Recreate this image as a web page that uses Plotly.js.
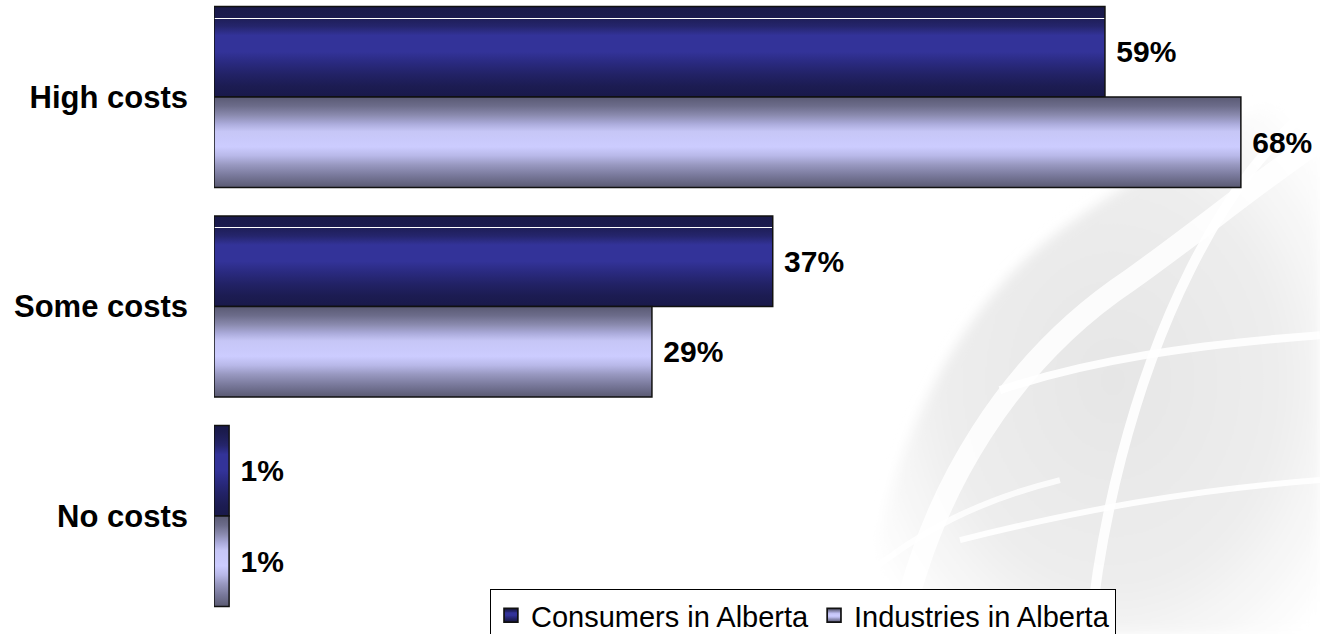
<!DOCTYPE html>
<html>
<head>
<meta charset="utf-8">
<script src="https://cdn.plot.ly/plotly-3.0.1.min.js"></script>
<style>
  html, body { margin: 0; padding: 0; background: #ffffff; }
  #chart { width: 1320px; height: 634px; }
</style>
</head>
<body>
<div id="chart"></div>
<script>
// ---- data ----
const categories = ["High costs", "Some costs", "No costs"];
const consumers = [59, 37, 1];
const industries = [68, 29, 1];
const seriesNames = ["Consumers in Alberta", "Industries in Alberta"];

const FONT = '"Liberation Sans", Arial, sans-serif';

// faint decorative background swoosh (watermark)
const wmSvg =
  '<svg xmlns="http://www.w3.org/2000/svg" viewBox="0 0 460 574" width="460" height="574">' +
  '<defs>' +
  '<radialGradient id="g1" cx="0.55" cy="0.55" r="0.6">' +
  '<stop offset="0" stop-color="#e4e4e4"/><stop offset="0.6" stop-color="#ececec"/><stop offset="1" stop-color="#ffffff"/></radialGradient>' +
  '<filter id="b"><feGaussianBlur stdDeviation="6"/></filter>' +
  '</defs>' +
  '<g filter="url(#b)">' +
  '<path d="M0,574 C20,420 80,260 200,170 C290,105 380,60 460,10 L460,574 Z" fill="url(#g1)" opacity="0.9"/>' +
  '</g>' +
  '<path d="M40,574 C70,430 150,300 270,220 C340,170 400,120 460,80" fill="none" stroke="#ffffff" stroke-width="22" opacity="0.85"/>' +
  '<path d="M230,574 C240,470 270,330 330,210 C370,130 410,80 460,40" fill="none" stroke="#ffffff" stroke-width="10" opacity="0.9"/>' +
  '<path d="M140,330 C230,300 330,285 460,275" fill="none" stroke="#ffffff" stroke-width="8" opacity="0.9"/>' +
  '<path d="M100,480 C220,450 330,430 460,420" fill="none" stroke="#ffffff" stroke-width="6" opacity="0.9"/>' +
  '<path d="M0,520 C60,470 120,440 200,420" fill="none" stroke="#ffffff" stroke-width="6" opacity="0.8"/>' +
  '</svg>';
const wmUri = 'data:image/svg+xml;charset=utf-8,' + encodeURIComponent(wmSvg);

const traces = [
  {
    type: 'bar', orientation: 'h', name: seriesNames[0],
    y: categories, x: consumers,
    text: consumers.map(v => v + '%'),
    texttemplate: ' %{text}',
    textposition: 'outside', cliponaxis: false, constraintext: 'none',
    textfont: { family: FONT, size: 30, color: '#000000', weight: 'bold' },
    marker: { color: '#2a2a80', line: { color: '#111111', width: 1.5 } },
    hoverinfo: 'skip'
  },
  {
    type: 'bar', orientation: 'h', name: seriesNames[1],
    y: categories, x: industries,
    text: industries.map(v => v + '%'),
    texttemplate: ' %{text}',
    textposition: 'outside', cliponaxis: false, constraintext: 'none',
    textfont: { family: FONT, size: 30, color: '#000000', weight: 'bold' },
    marker: { color: '#a8a8d8', line: { color: '#111111', width: 1.5 } },
    hoverinfo: 'skip'
  }
];

const layout = {
  width: 1320, height: 634,
  margin: { l: 214, r: 0, t: 0, b: 0, autoexpand: false },
  paper_bgcolor: '#ffffff', plot_bgcolor: 'rgba(0,0,0,0)',
  barmode: 'group', bargap: 0.136, bargroupgap: 0,
  showlegend: true,
  legend: {
    orientation: 'h', x: 0.2495, xanchor: 'left', y: 0.071, yanchor: 'top',
    bgcolor: '#ffffff', bordercolor: '#000000', borderwidth: 1,
    font: { family: FONT, size: 29, color: '#000000' },
    itemclick: false, itemdoubleclick: false
  },
  images: [{
    source: wmUri, xref: 'paper', yref: 'paper',
    x: 0.584, y: 0.905, sizex: 0.416, sizey: 0.905,
    xanchor: 'left', yanchor: 'top', sizing: 'stretch', layer: 'below', opacity: 1
  }],
  xaxis: {
    range: [0, 73.24], visible: false, showgrid: false, zeroline: false, fixedrange: true
  },
  yaxis: {
    type: 'category', range: [2.563, -0.463],
    showgrid: false, zeroline: false, showline: false, ticks: '',
    ticklabelstandoff: 25,
    tickfont: { family: FONT, size: 31, color: '#000000', weight: 'bold' },
    fixedrange: true
  }
};

function addGradients(gd) {
  const svg = gd.querySelector('svg.main-svg');
  const NS = 'http://www.w3.org/2000/svg';
  let defs = svg.querySelector('defs');
  if (!defs) { defs = document.createElementNS(NS, 'defs'); svg.insertBefore(defs, svg.firstChild); }
  function grad(id, stops) {
    const g = document.createElementNS(NS, 'linearGradient');
    g.setAttribute('id', id);
    g.setAttribute('x1', '0'); g.setAttribute('y1', '0');
    g.setAttribute('x2', '0'); g.setAttribute('y2', '1');
    stops.forEach(s => {
      const st = document.createElementNS(NS, 'stop');
      st.setAttribute('offset', s[0]);
      st.setAttribute('stop-color', s[1]);
      g.appendChild(st);
    });
    defs.appendChild(g);
  }
  const blueBase = [
    [0.14, '#1f1f5a'], [0.22, '#25256c'], [0.32, '#333399'], [0.5, '#333399'],
    [0.62, '#2a2a80'], [0.75, '#222266'], [0.88, '#1c1c52'], [1, '#19194a']
  ];
  grad('gBlueLine', [[0, '#19194a'], [0.125, '#1b1b4e'], [0.126, '#ffffff'], [0.137, '#ffffff'], [0.138, '#1f1f5a']].concat(blueBase));
  grad('gBlue', [[0, '#19194a'], [0.07, '#1b1b4e']].concat(blueBase));
  grad('gLav', [
    [0, '#5a5a74'], [0.1, '#6c6c8a'], [0.2, '#8a8aae'], [0.3, '#acacdc'],
    [0.38, '#c6c6f6'], [0.55, '#ccccff'], [0.65, '#b8b8e8'], [0.75, '#9898c0'],
    [0.87, '#78789a'], [1, '#5a5a72']
  ]);
  const barTraces = gd.querySelectorAll('.barlayer .trace');
  barTraces.forEach((tr, ti) => {
    tr.querySelectorAll('.point path').forEach((p, pi) => {
      let id = ti === 0 ? (pi < 2 ? 'gBlueLine' : 'gBlue') : 'gLav';
      p.style.setProperty('fill', 'url(#' + id + ')');
    });
  });
  const legendTraces = gd.querySelectorAll('.legend .traces');
  legendTraces.forEach((tr, ti) => {
    tr.querySelectorAll('.legendpoints path').forEach(p => {
      p.style.setProperty('fill', 'url(#' + (ti === 0 ? 'gBlue' : 'gLav') + ')');
      p.style.setProperty('stroke', '#111111');
      p.style.setProperty('stroke-width', '1.5px');
      const t = p.getAttribute('transform') || '';
      p.setAttribute('transform', t + ' scale(1.15)');
    });
  });
}

Plotly.newPlot('chart', traces, layout, { staticPlot: true, displayModeBar: false })
  .then(gd => addGradients(gd));
</script>
</body>
</html>
